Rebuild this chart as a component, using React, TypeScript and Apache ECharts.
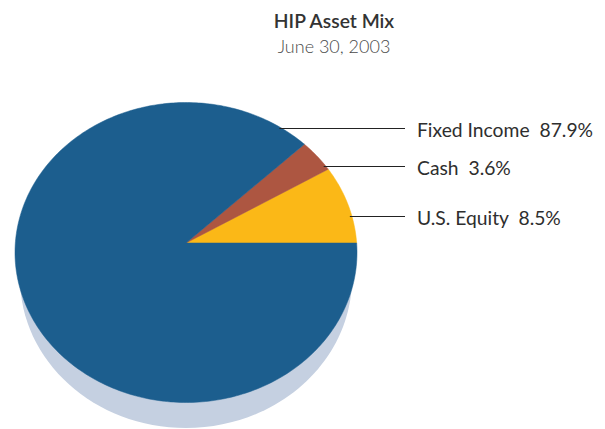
import React, { useEffect, useRef } from "react";
import * as echarts from "echarts";

const categories = ["U.S. Equity", "Cash", "Fixed Income"];
const values = [8.5, 3.6, 87.9];
const colors = ["#fbb817", "#ad5641", "#1c5e8e"];
const titleText = "HIP Asset Mix";
const subtitleText = "June 30, 2003";

// layout
const CX = 186, CY = 252.5, RX = 171, RY = 150;
const VX = 186, VY = 243;
const SHADOW = { cx: 186, cy: 278, rx: 166, ry: 150 };
const LABEL_Y = [216, 166, 128];
const LINE_END_X = 405;
const TEXT_X = 417;
const FONT = "Lato, 'Open Sans', sans-serif";

function edgePoint(theta: number): [number, number] {
  const b = (VY - CY) / RY;
  const a = (VX - CX) / RX;
  const dx = Math.cos(theta);
  const dy = -Math.sin(theta);
  const B = a * dx + b * dy;
  const Cc = a * a + b * b - 1;
  const s = -B + Math.sqrt(B * B - Cc);
  return [VX + s * RX * dx, VY + s * RY * dy];
}

function rightEdgeX(y: number): number {
  const d = (y - CY) / RY;
  return CX + RX * Math.sqrt(Math.max(0, 1 - d * d));
}

export default function App() {
  const ref = useRef<HTMLDivElement>(null);
  useEffect(() => {
    document.body.style.margin = "0";
    if (!ref.current) return;
    const chart = echarts.init(ref.current, null, { renderer: "svg" });
    const total = values.reduce((s, v) => s + v, 0);
    const starts: number[] = [];
    let acc = 0;
    values.forEach((v) => {
      starts.push(acc);
      acc += v;
    });

    const renderItem = (params: any, api: any) => {
      const i = params.dataIndex;
      const v = api.value(0);
      const t0 = (starts[i] / total) * Math.PI * 2;
      const t1 = t0 + (v / total) * Math.PI * 2;
      const pts: number[][] = [[VX, VY]];
      const steps = Math.max(4, Math.ceil(((t1 - t0) * 180) / Math.PI));
      for (let k = 0; k <= steps; k++) {
        const t = t0 + ((t1 - t0) * k) / steps;
        pts.push(edgePoint(t));
      }
      const ly = LABEL_Y[i];
      const ax = rightEdgeX(ly) - 2;
      return {
        type: "group",
        children: [
          {
            type: "polygon",
            shape: { points: pts },
            style: { fill: colors[i], stroke: colors[i], lineWidth: 0.5 },
          },
          {
            type: "line",
            shape: { x1: ax, y1: ly + 0.5, x2: LINE_END_X, y2: ly + 0.5 },
            style: { stroke: "#222", lineWidth: 1.2 },
            z2: 10,
          },
          {
            type: "text",
            x: TEXT_X,
            y: ly + 1,
            style: {
              text: `${categories[i]}  ${v.toFixed(1)}%`,
              fill: "#2e2e2e",
              font: `400 19.3px ${FONT}`,
              textAlign: "left",
              textVerticalAlign: "middle",
            },
          },
        ],
      };
    };

    chart.setOption({
      animation: false,
      graphic: [
        {
          type: "ellipse",
          shape: SHADOW,
          style: { fill: "#c5d0e1" },
          z: -1,
        },
        {
          type: "text",
          x: 334,
          y: 20,
          style: {
            text: titleText,
            fill: "#333",
            font: `600 19.3px ${FONT}`,
            textAlign: "center",
            textVerticalAlign: "middle",
          },
        },
        {
          type: "text",
          x: 334,
          y: 46,
          style: {
            text: subtitleText,
            fill: "#4a4a4a",
            font: `300 18px ${FONT}`,
            textAlign: "center",
            textVerticalAlign: "middle",
          },
        },
      ],
      series: [
        {
          type: "custom",
          coordinateSystem: "none",
          renderItem,
          data: values.map((v, i) => ({ name: categories[i], value: [v] })),
          z: 2,
        },
      ],
    });
    return () => chart.dispose();
  }, []);
  return <div ref={ref} style={{ width: 605, height: 429 }} />;
}
